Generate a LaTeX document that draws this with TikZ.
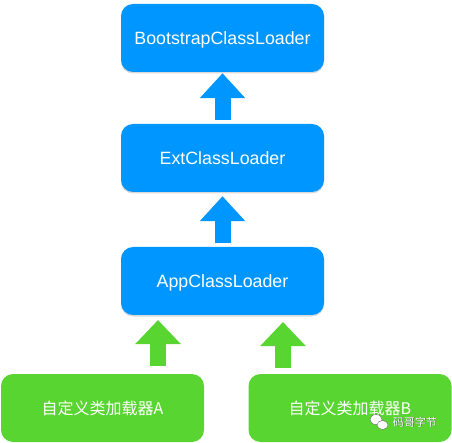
\documentclass[tikz,border=0pt]{standalone}
\usepackage{fontspec}
\setmainfont{Liberation Sans}
\newfontfamily\cjk{Noto Sans CJK SC}
\usetikzlibrary{arrows.meta,shadows}
\definecolor{loaderblue}{RGB}{0,150,255}
\definecolor{loadergreen}{RGB}{88,213,49}
\tikzset{
  loader/.style={rounded corners=12pt, minimum width=203pt, minimum height=68pt, inner sep=0pt, text=white},
  bluebox/.style={loader, fill=loaderblue, text height=12.7pt, text depth=0pt, font=\fontsize{17.8}{20}\selectfont,
    drop shadow={shadow xshift=0pt, shadow yshift=-1.5pt, opacity=0.3}},
  greenbox/.style={loader, fill=loadergreen, text height=12pt, text depth=0pt, font=\fontsize{16}{18}\selectfont\cjk},
  bluearrow/.style={draw=loaderblue, line width=16pt, -{Triangle[width=44pt,length=25pt]}},
  greenarrow/.style={draw=loadergreen, line width=16pt, -{Triangle[width=44pt,length=24pt]}},
  mark bubble/.style={fill=white, draw=black!60, line width=0.4pt}
}

\begin{document}
\begin{tikzpicture}[x=1pt,y=-1pt]
  \useasboundingbox (0,0) rectangle (452,443);

  \node[bluebox] (boot) at (222.5,38) {BootstrapClassLoader};
  \node[bluebox] (ext) at (222.5,158) {ExtClassLoader};
  \node[bluebox] (app) at (222.5,281) {AppClassLoader};
  \node[greenbox] (loaderA) at (102.5,408) {自定义类加载器A};
  \node[greenbox] (loaderB) at (350,408) {自定义类加载器B};

  % free ends of the two lower arrows
  \coordinate (footA) at (158,366);
  \coordinate (tipA) at (158,320);
  \coordinate (footB) at (283,368);
  \coordinate (tipB) at (283,322);

  \draw[bluearrow, shorten <=4pt, shorten >=1pt] (ext.north) -- (boot.south);
  \draw[bluearrow, shorten <=4pt, shorten >=4pt] (app.north) -- (ext.south);
  \draw[greenarrow] (footA) -- (tipA);
  \draw[greenarrow] (footB) -- (tipB);

  % watermark
  \fill[mark bubble] (376,419.5) ellipse (6pt and 5pt);
  \fill[mark bubble] (382.5,425) ellipse (5.5pt and 4.5pt);
  \node[font=\fontsize{11}{12}\selectfont\cjk, text=black!70] at (415.7,422.7) {码哥字节};
  \node[font=\fontsize{11}{12}\selectfont\cjk, text=white] (mark) at (415,422) {码哥字节};
\end{tikzpicture}
\end{document}
